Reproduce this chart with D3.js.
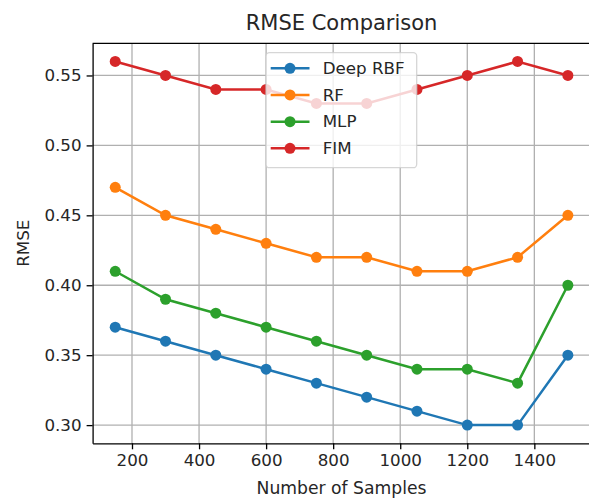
<!DOCTYPE html>
<html>
<head>
<meta charset="utf-8">
<script src="https://cdn.jsdelivr.net/npm/d3@7"></script>
<style>
  body { margin: 0; background: #fff; }
  svg { font-family: "DejaVu Sans", sans-serif; }
</style>
</head>
<body>
<div id="chart"></div>
<script>
var samples = [150, 300, 450, 600, 750, 900, 1050, 1200, 1350, 1500];
var deepRbf = [0.37, 0.36, 0.35, 0.34, 0.33, 0.32, 0.31, 0.30, 0.30, 0.35];
var rf      = [0.47, 0.45, 0.44, 0.43, 0.42, 0.42, 0.41, 0.41, 0.42, 0.45];
var mlp     = [0.41, 0.39, 0.38, 0.37, 0.36, 0.35, 0.34, 0.34, 0.33, 0.40];
var fim     = [0.56, 0.55, 0.54, 0.54, 0.53, 0.53, 0.54, 0.55, 0.56, 0.55];
var seriesNames = ["Deep RBF", "RF", "MLP", "FIM"];
var xTicks = [200, 400, 600, 800, 1000, 1200, 1400];
var yTicks = [0.30, 0.35, 0.40, 0.45, 0.50, 0.55];

var series = [deepRbf, rf, mlp, fim];
var colors = ["#1f77b4", "#ff7f0e", "#2ca02c", "#d62728"];

var width = 589, height = 499;
var plotL = 92.6, plotR = 590.5, plotT = 43.3, plotB = 443.3;

var svg = d3.select("#chart").append("svg")
    .attr("width", width)
    .attr("height", height);

// matplotlib style 5% margins
var xPad = (1500 - 150) * 0.05;
var yPad = (0.56 - 0.30) * 0.05;
var x = d3.scaleLinear().domain([150 - xPad, 1500 + xPad]).range([plotL, plotR]);
var y = d3.scaleLinear().domain([0.30 - yPad, 0.56 + yPad]).range([plotB, plotT]);

// grid
svg.append("g").selectAll("line")
    .data(xTicks).enter().append("line")
    .attr("x1", function(d) { return x(d); })
    .attr("x2", function(d) { return x(d); })
    .attr("y1", plotT).attr("y2", plotB)
    .attr("stroke", "#b0b0b0").attr("stroke-width", 1.3);
svg.append("g").selectAll("line")
    .data(yTicks).enter().append("line")
    .attr("y1", function(d) { return y(d); })
    .attr("y2", function(d) { return y(d); })
    .attr("x1", plotL).attr("x2", plotR)
    .attr("stroke", "#b0b0b0").attr("stroke-width", 1.3);

// axes
var xAxis = svg.append("g")
    .attr("transform", "translate(0," + plotB + ")")
    .call(d3.axisBottom(x).tickValues(xTicks).tickSize(6).tickPadding(5).tickSizeOuter(0).tickFormat(d3.format("d")));
var yAxis = svg.append("g")
    .attr("transform", "translate(" + plotL + ",0)")
    .call(d3.axisLeft(y).tickValues(yTicks).tickSize(6).tickPadding(5).tickSizeOuter(0).tickFormat(d3.format(".2f")));
[xAxis, yAxis].forEach(function(a) {
    a.select(".domain").attr("stroke", "#000").attr("stroke-width", 1.3);
    a.selectAll(".tick line").attr("stroke", "#000").attr("stroke-width", 1.3);
    a.selectAll(".tick text")
        .attr("font-size", 16.7)
        .attr("font-family", "DejaVu Sans")
        .attr("fill", "#262626");
});

// frame top/right
svg.append("line").attr("x1", plotL).attr("x2", plotR).attr("y1", plotT).attr("y2", plotT)
    .attr("stroke", "#000").attr("stroke-width", 1.3);
svg.append("line").attr("x1", plotR).attr("x2", plotR).attr("y1", plotT).attr("y2", plotB)
    .attr("stroke", "#000").attr("stroke-width", 1.3);

// lines + markers
var line = d3.line()
    .x(function(d, i) { return x(samples[i]); })
    .y(function(d) { return y(d); });

series.forEach(function(vals, k) {
    var g = svg.append("g");
    g.append("path")
        .datum(vals)
        .attr("d", line)
        .attr("fill", "none")
        .attr("stroke", colors[k])
        .attr("stroke-width", 2.5);
    g.selectAll("circle")
        .data(vals).enter().append("circle")
        .attr("cx", function(d, i) { return x(samples[i]); })
        .attr("cy", function(d) { return y(d); })
        .attr("r", 5.5)
        .attr("fill", colors[k]);
});

// title and labels
svg.append("text")
    .attr("x", (plotL + plotR) / 2).attr("y", 30)
    .attr("text-anchor", "middle")
    .attr("font-size", 21)
    .attr("fill", "#262626")
    .text("RMSE Comparison");

svg.append("text")
    .attr("x", (plotL + plotR) / 2).attr("y", 494)
    .attr("text-anchor", "middle")
    .attr("font-size", 17.2)
    .attr("fill", "#262626")
    .text("Number of Samples");

svg.append("text")
    .attr("transform", "translate(29," + ((plotT + plotB) / 2) + ") rotate(-90)")
    .attr("text-anchor", "middle")
    .attr("font-size", 16.7)
    .attr("fill", "#262626")
    .text("RMSE");

// legend
var legend = svg.append("g");
legend.append("rect")
    .attr("x", 266).attr("y", 52.7)
    .attr("width", 150.7).attr("height", 115)
    .attr("rx", 3.5)
    .attr("fill", "#fff").attr("fill-opacity", 0.8)
    .attr("stroke", "#cccccc").attr("stroke-opacity", 0.8).attr("stroke-width", 1.3);

var rowY = d3.scalePoint().domain(seriesNames).range([68.3, 148.3]);
var entry = legend.selectAll(".entry")
    .data(seriesNames).enter().append("g")
    .attr("transform", function(d) { return "translate(0," + rowY(d) + ")"; });
entry.append("line")
    .attr("x1", 270.7).attr("x2", 309.5)
    .attr("stroke", function(d, i) { return colors[i]; })
    .attr("stroke-width", 2.5);
entry.append("circle")
    .attr("cx", 290).attr("r", 5.5)
    .attr("fill", function(d, i) { return colors[i]; });
entry.append("text")
    .attr("x", 322.7).attr("dy", "0.35em")
    .attr("font-size", 16.7)
    .attr("fill", "#262626")
    .text(function(d) { return d; });
</script>
</body>
</html>
